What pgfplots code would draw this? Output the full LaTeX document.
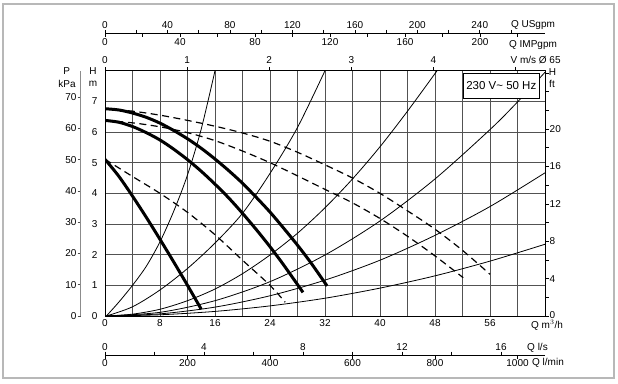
\documentclass[border=0pt]{standalone}
\usepackage{fontspec}
\setmainfont{Liberation Sans}
\usepackage{pgfplots}
\pgfplotsset{compat=1.18}
\begin{document}
\fontsize{10}{12}\selectfont
\begin{tikzpicture}[x=1pt,y=1pt]
\path[use as bounding box] (0,0) rectangle (618,383);
\draw[black!28, line width=1.3pt] (3,5) rectangle (614,379);
\pgfplotsset{
 every axis/.append style={/pgf/number format/assume math mode=true,
   /pgf/number format/1000 sep={},
   tick label style={font=\fontsize{10}{12}\selectfont}},
 aux/.style={scale only axis, width=440pt, height=10pt, xmin=0, ymin=0, ymax=1,
   axis y line=none, ytick=\empty, tick align=outside,
   major tick length=3.5pt, minor tick length=3.5pt,
   tick style={black, line width=0.6pt}, axis line style={black, line width=0.7pt},
   xticklabel style={inner sep=1pt}, clip=false},
}
% main axis
\begin{axis}[at={(105pt,67pt)}, anchor=south west, scale only axis,
  width=440pt, height=245.3pt, xmin=0, xmax=64, ymin=0, ymax=8,
  xtick={0,8,...,56}, minor xtick={4,12,...,60}, ytick={0,...,7},
  grid=both, grid style={black!68, line width=0.85pt},
  minor grid style={black!68, line width=0.85pt},
  major tick length=0pt, minor tick length=0pt,
  axis line style={black, line width=0.9pt},
  yticklabel style={xshift=-4pt}]
% system curves (thin)
\addplot[black, line width=0.8pt, smooth] coordinates {(0.2,0) (2,0.45) (4,1.0) (6,1.62) (8,2.42) (10,3.42) (12,4.6) (14,6.1) (16,8.0)};
\addplot[black, line width=0.8pt, smooth] coordinates {(0.2,0) (4,0.3) (8,0.85) (12,1.55) (16,2.38) (20,3.35) (24,4.65) (28,6.15) (32,8.0)};
\addplot[black, line width=0.8pt, smooth] coordinates {(0.2,0) (4,0.06) (8,0.22) (12,0.5) (16,0.88) (20,1.38) (24,1.99) (28,2.7) (32,3.53) (36,4.47) (40,5.52) (44,6.68) (48.3,8.0)};
\addplot[black, line width=0.8pt, smooth] coordinates {(0.2,0) (8,0.12) (16,0.5) (24,1.12) (32,1.99) (40,3.1) (48,4.47) (56,6.08) (60,6.98) (64,7.95)};
\addplot[black, line width=0.8pt, smooth] coordinates {(0.2,0) (8,0.07) (16,0.29) (24,0.66) (32,1.17) (40,1.82) (48,2.63) (56,3.57) (64,4.67)};
\addplot[black, line width=0.8pt, smooth] coordinates {(0.2,0) (8,0.04) (16,0.15) (24,0.33) (32,0.58) (40,0.91) (48,1.31) (56,1.79) (64,2.34)};
% dashed curves
\addplot[black, line width=1.2pt, dash pattern=on 7pt off 4.5pt, smooth] coordinates {(0,6.76) (4,6.68) (8,6.55) (12,6.38) (16,6.19) (20,5.97) (24,5.7) (28,5.34) (32,4.93) (36,4.5) (40,4.0) (44,3.43) (48,2.83) (52,2.14) (56,1.36)};
\addplot[black, line width=1.2pt, dash pattern=on 7pt off 4.5pt, smooth] coordinates {(0,6.38) (4,6.3) (8,6.17) (12,5.98) (16,5.72) (20,5.38) (24,5.0) (28,4.57) (32,4.13) (36,3.69) (40,3.18) (44,2.6) (48,1.96) (52.1,1.25)};
\addplot[black, line width=1.2pt, dash pattern=on 7pt off 4.5pt, smooth] coordinates {(0,5.11) (4,4.55) (8,4.0) (12,3.38) (16,2.65) (20,1.82) (24,1.0) (26.2,0.45)};
% pump curves (thick)
\addplot[black, line width=3pt, smooth] coordinates {(0,6.76) (2,6.72) (4,6.62) (6,6.48) (8,6.29) (10,6.05) (12,5.78) (14,5.47) (16,5.12) (18,4.74) (20,4.33) (22,3.87) (24,3.39) (26,2.86) (28,2.31) (30,1.72) (32.3,0.98)};
\addplot[black, line width=3pt, smooth] coordinates {(0,6.38) (2,6.32) (4,6.18) (6,5.98) (8,5.74) (10,5.44) (12,5.1) (14,4.72) (16,4.3) (18,3.85) (20,3.35) (22,2.82) (24,2.26) (26,1.66) (28.8,0.77)};
\addplot[black, line width=3pt, smooth] coordinates {(0,5.11) (2,4.56) (4,3.91) (6,3.22) (8,2.5) (10,1.76) (12,1.0) (14,0.22)};
\end{axis}
% kPa axis
\begin{axis}[scale only axis, at={(80.7pt,67pt)}, anchor=south west, width=10pt,
  height=245.3pt, ymin=0, ymax=78.45, xmin=0, xmax=1, axis x line=none,
  axis y line*=left, ytick={0,10,...,70}, xtick=\empty, tick align=outside,
  major tick length=3pt, axis line style={black!45, line width=1.3pt},
  tick style={black!70, line width=0.6pt}, yticklabel style={inner sep=1pt}]
\addplot[draw=none] coordinates {(0,0)};
\end{axis}
% ft axis
\begin{axis}[scale only axis, at={(545pt,67pt)}, anchor=south east, width=10pt,
  height=245.3pt, ymin=0, ymax=26.247, xmin=0, xmax=1, axis x line=none,
  axis y line*=right, ytick={0,4,...,24},
  yticklabels={\raisebox{2.5pt}{0},4,8,12,16,20,{}},
  minor ytick={2,6,...,26}, xtick=\empty, tick align=outside,
  major tick length=3.5pt, minor tick length=3.5pt,
  axis line style={black, line width=0.9pt},
  tick style={black, line width=0.6pt}, yticklabel style={inner sep=1pt}]
\addplot[draw=none] coordinates {(0,0)};
\end{axis}
% V m/s axis
\begin{axis}[aux, at={(105pt,302.3pt)}, anchor=south west, xmax=5.358,
  axis x line*=top, xtick={0,...,5}, xticklabels={0,1,2,3,4,{}},
  xticklabel style={yshift=2pt}]
\addplot[draw=none] coordinates {(0,0)};
\end{axis}
% USgpm axis
\begin{axis}[aux, at={(105pt,339.5pt)}, anchor=south west, xmax=281.78,
  axis x line*=top, xtick={0,40,...,240}, minor xtick={20,60,...,280}]
\addplot[draw=none] coordinates {(0,0)};
\end{axis}
% IMPgpm axis
\begin{axis}[aux, at={(105pt,349.5pt)}, anchor=south west, xmax=234.64,
  axis x line*=bottom, xtick={0,40,...,200}, minor xtick={20,60,...,220}]
\addplot[draw=none] coordinates {(0,0)};
\end{axis}
% l/s axis
\begin{axis}[aux, at={(105pt,18pt)}, anchor=south west, xmax=17.7778,
  axis x line*=top, xtick={0,4,...,16}, minor xtick={2,6,...,14}]
\addplot[draw=none] coordinates {(0,0)};
\end{axis}
% l/min axis
\begin{axis}[aux, at={(105pt,28pt)}, anchor=south west, xmax=1066.67,
  axis x line*=bottom, xtick={0,200,...,1000}]
\addplot[draw=none] coordinates {(0,0)};
\end{axis}
% labels
\node at (93,312) {H};
\node at (93,299.5) {m};
\node at (66.7,312) {P};
\node at (67,299.5) {kPa};
\node at (552.5,311.3) {H};
\node at (552,299.3) {ft};
\node at (533,358) {Q USgpm};
\node at (533,338) {Q IMPgpm};
\node at (535.6,323) {V m/s Ø 65};
\node at (547,57.5) {Q m$^3$/h};
\node at (537.5,35) {Q l/s};
\node at (548,20) {Q l/min};
\node[draw=black, line width=1pt, fill=white, minimum width=76pt, minimum height=25pt,
  inner sep=0pt, font=\fontsize{11.5}{13}\selectfont] at (501.3,297.2) {230 V\textasciitilde{} 50 Hz};
\end{tikzpicture}
\end{document}
